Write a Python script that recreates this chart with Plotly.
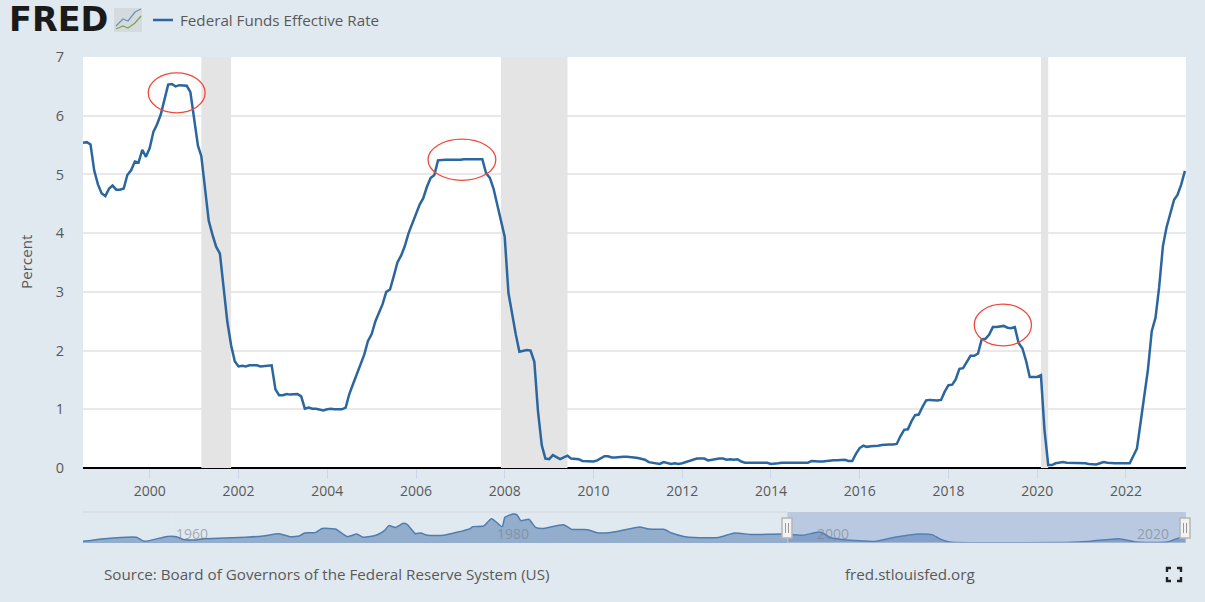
import pandas as pd
import plotly.graph_objects as go

W, H = 1205, 602
PAPER = "#e1e9f0"
TEXT = "#595959"
FONT = "Open Sans"

# monthly rate, Jul 1998 - May 2023
rate = [
    5.54, 5.55, 5.51, 5.07, 4.83, 4.68,
    4.63, 4.76, 4.81, 4.74, 4.74, 4.76, 4.99, 5.07, 5.22, 5.20, 5.42, 5.30,
    5.45, 5.73, 5.85, 6.02, 6.27, 6.53, 6.54, 6.50, 6.52, 6.51, 6.51, 6.40,
    5.98, 5.49, 5.31, 4.80, 4.21, 3.97, 3.77, 3.65, 3.07, 2.49, 2.09, 1.82,
    1.73, 1.74, 1.73, 1.75, 1.75, 1.75, 1.73, 1.74, 1.75, 1.75, 1.34, 1.24,
    1.24, 1.26, 1.25, 1.26, 1.26, 1.22, 1.01, 1.03, 1.01, 1.01, 1.00, 0.98,
    1.00, 1.01, 1.00, 1.00, 1.00, 1.03, 1.26, 1.43, 1.61, 1.76, 1.93, 2.16,
    2.28, 2.50, 2.63, 2.79, 3.00, 3.04, 3.26, 3.50, 3.62, 3.78, 4.00, 4.16,
    4.29, 4.49, 4.59, 4.79, 4.94, 4.99, 5.24, 5.25, 5.25, 5.25, 5.25, 5.24,
    5.25, 5.26, 5.26, 5.25, 5.25, 5.25, 5.26, 5.02, 4.94, 4.76, 4.49, 4.24,
    3.94, 2.98, 2.61, 2.28, 1.98, 2.00, 2.01, 2.00, 1.81, 0.97, 0.39, 0.16,
    0.15, 0.22, 0.18, 0.15, 0.18, 0.21, 0.16, 0.16, 0.15, 0.12, 0.12, 0.12,
    0.11, 0.13, 0.16, 0.20, 0.20, 0.18, 0.18, 0.19, 0.19, 0.19, 0.19, 0.18,
    0.17, 0.16, 0.14, 0.10, 0.09, 0.09, 0.07, 0.10, 0.08, 0.07, 0.08, 0.07,
    0.08, 0.10, 0.13, 0.14, 0.16, 0.16, 0.16, 0.13, 0.14, 0.16, 0.16, 0.16,
    0.14, 0.15, 0.14, 0.15, 0.11, 0.09, 0.09, 0.08, 0.08, 0.09, 0.08, 0.09,
    0.07, 0.07, 0.08, 0.09, 0.09, 0.10, 0.09, 0.09, 0.09, 0.09, 0.09, 0.12,
    0.11, 0.11, 0.11, 0.12, 0.12, 0.13, 0.13, 0.14, 0.14, 0.12, 0.12, 0.24,
    0.34, 0.38, 0.36, 0.37, 0.37, 0.38, 0.39, 0.40, 0.40, 0.40, 0.41, 0.54,
    0.65, 0.66, 0.79, 0.90, 0.91, 1.04, 1.15, 1.16, 1.15, 1.15, 1.16, 1.30,
    1.41, 1.42, 1.51, 1.69, 1.70, 1.82, 1.91, 1.91, 1.95, 2.19, 2.20, 2.27,
    2.40, 2.40, 2.41, 2.42, 2.39, 2.38, 2.40, 2.13, 2.04, 1.83, 1.55, 1.55,
    1.55, 1.58, 0.65, 0.05, 0.05, 0.08, 0.09, 0.10, 0.09, 0.09, 0.09, 0.09,
    0.09, 0.08, 0.07, 0.07, 0.06, 0.08, 0.10, 0.09, 0.08, 0.08, 0.08, 0.08,
    0.08, 0.08, 0.20, 0.33, 0.77, 1.21, 1.68, 2.33, 2.56, 3.08, 3.78, 4.10,
    4.33, 4.57, 4.65, 4.83, 5.06,
]
rate_dates = pd.date_range("1998-07-01", periods=len(rate), freq="MS")

recession_start = ["2001-03-01", "2007-12-01", "2020-02-01"]
recession_end = ["2001-11-01", "2009-06-01", "2020-04-01"]

# the red hand drawn circles: left, right, bottom, top
circle_left = ["1999-12-20", "2006-04-10", "2018-08-01"]
circle_right = ["2001-04-01", "2007-10-20", "2019-11-15"]
circle_low = [6.05, 4.90, 2.08]
circle_high = [6.73, 5.60, 2.79]

# navigator overview
nav_dates = [
    "1954-07", "1955-11", "1957-11", "1958-05", "1959-10", "1960-05", "1960-10",
    "1961-08", "1962-01", "1963-05", "1964-09", "1965-10", "1966-10", "1967-06",
    "1968-01", "1968-05", "1969-01", "1969-06", "1970-04", "1971-01", "1971-08",
    "1972-01", "1972-11", "1973-05", "1973-08", "1974-01", "1974-07", "1974-10",
    "1975-04", "1975-08", "1976-01", "1977-01", "1977-11", "1978-09", "1978-11",
    "1979-07", "1980-01", "1980-09", "1980-11", "1981-05", "1981-08", "1981-11",
    "1982-05", "1982-10", "1983-03", "1984-07", "1985-01", "1986-01", "1986-08",
    "1987-03", "1987-11", "1989-04", "1989-11", "1990-10", "1991-04", "1992-01",
    "1992-09", "1994-03", "1995-03", "1996-04", "1998-03", "1999-06", "2000-07",
    "2001-04", "2002-01", "2004-01", "2005-03", "2006-10", "2007-07", "2008-01",
    "2008-08", "2010-01", "2015-12", "2017-06", "2019-03", "2020-04", "2022-03",
    "2023-05",
]
nav_values = [
    1.1, 2.9, 3.8, 1.1, 4.4, 4.2, 2.4,
    2.0, 2.9, 3.3, 3.8, 4.7, 6.2, 4.2,
    4.7, 6.7, 6.9, 9.6, 9.3, 4.2, 6.0,
    3.8, 5.3, 8.4, 11.6, 10.4, 13.1, 12.2,
    6.2, 6.7, 5.1, 5.1, 7.1, 9.6, 10.9,
    11.3, 16.2, 10.9, 17.1, 19.3, 18.9, 14.9,
    15.8, 10.4, 9.6, 12.2, 9.1, 8.9, 6.9,
    6.7, 7.6, 10.7, 9.3, 9.1, 6.7, 4.4,
    3.6, 3.6, 6.7, 5.6, 6.0, 5.1, 7.3,
    3.3, 2.2, 1.1, 3.8, 6.0, 5.6, 2.7,
    0.7, 0.2, 0.4, 1.2, 2.9, 0.7, 0.7,
    5.1,
]
nav_tick_years = ["1960", "1980", "2000", "2020"]

y_ticks = [0, 1, 2, 3, 4, 5, 6, 7]
NAV_TOP = 20.67


def px(x):
    return x / W


def py(y):
    return 1 - y / H


def rect(x0, y0, x1, y1, **kw):
    return dict(type="rect", xref="paper", yref="paper", x0=px(x0), x1=px(x1), y0=py(y0), y1=py(y1), **kw)


def polyline(points, color, width):
    path = "M" + " L".join(f"{px(x):.5f},{py(y):.5f}" for x, y in points)
    return dict(type="path", xref="paper", yref="paper", path=path, line=dict(color=color, width=width))


def label(text, x, y, size=15.2, color=TEXT, anchor="left", family=FONT, **kw):
    return dict(text=text, xref="paper", yref="paper", x=px(x), y=py(y), xanchor=anchor, yanchor="middle",
                showarrow=False, font=dict(family=family, size=size, color=color), **kw)


fig = go.Figure()
fig.add_trace(go.Scatter(x=nav_dates, y=nav_values, xaxis="x2", yaxis="y2", mode="lines", fill="tozeroy",
                         fillcolor="#93aecd", line=dict(color="#4f7db0", width=1.5, shape="spline", smoothing=0.5),
                         hoverinfo="skip"))
fig.add_trace(go.Scatter(x=rate_dates, y=rate, mode="lines", name="Federal Funds Effective Rate",
                         line=dict(color="#2b669f", width=2.5)))

nav_end = "2023-05-10"
shapes = [dict(type="rect", xref="x", yref="y", x0="1998-07-01", x1=nav_end, y0=0, y1=7,
               fillcolor="white", line_width=0, layer="below")]
for a, b in zip(recession_start, recession_end):
    shapes.append(dict(type="rect", xref="x", yref="y", x0=a, x1=b, y0=0, y1=7,
                       fillcolor="#e4e4e4", line_width=0, layer="between"))
for a, b, lo, hi in zip(circle_left, circle_right, circle_low, circle_high):
    shapes.append(dict(type="circle", xref="x", yref="y", x0=a, x1=b, y0=lo, y1=hi,
                       line=dict(color="#f0483a", width=1.3)))

# navigator: selected window and its handles
shapes.append(dict(type="rect", xref="x2", yref="y2", x0=rate_dates[0], x1=nav_end, y0=0, y1=NAV_TOP,
                   fillcolor="rgba(102,133,194,0.32)", line=dict(color="#c4ccd6", width=1)))
shapes.append(polyline([(83, 512), (787, 512)], "#d3d6da", 1.2))
for cx in (787, 1185):
    shapes.append(rect(cx - 5, 518, cx + 5, 538, fillcolor="#f2f2f2", line=dict(color="#b5b5b5", width=1.5)))
    shapes.append(polyline([(cx - 1.5, 523), (cx - 1.5, 533)], "#999999", 1))
    shapes.append(polyline([(cx + 1.5, 523), (cx + 1.5, 533)], "#999999", 1))

# logo icon and legend key
shapes.append(rect(114, 8, 142, 32, fillcolor="#d5dade", line_width=0))
shapes.append(polyline([(116, 26), (123, 19), (128, 21), (135, 12), (141, 9)], "#6f93b5", 1.3))
shapes.append(polyline([(116, 29), (123, 26), (128, 28), (135, 23), (141, 16)], "#7ea35a", 1.3))
shapes.append(polyline([(153, 20), (173, 20)], "#2b669f", 2.5))

# fullscreen icon
for pts in ([(1167, 572), (1167, 568), (1171, 568)], [(1177, 568), (1181, 568), (1181, 572)],
            [(1167, 577), (1167, 581), (1171, 581)], [(1177, 581), (1181, 581), (1181, 577)]):
    shapes.append(polyline(pts, "#222222", 2.4))

annotations = [
    label("<b>FRED</b>", 7, 20, size=33.5, color="#1a1a1a", family="DejaVu Sans, sans-serif"),
    label("Federal Funds Effective Rate", 178, 20),
    label("Percent", 26, 262, textangle=-90, anchor="center"),
    label("Source: Board of Governors of the Federal Reserve System (US)", 102, 574),
    label("fred.stlouisfed.org", 843, 574),
]
for year in nav_tick_years:
    annotations.append(dict(text=year, xref="x2", yref="paper", x=year + "-01-01", y=py(533), xanchor="left",
                            xshift=3, yanchor="middle", showarrow=False,
                            font=dict(family=FONT, size=14, color="rgba(120,125,135,0.6)")))

fig.update_layout(
    width=W, height=H, margin=dict(l=0, r=0, t=0, b=0),
    paper_bgcolor=PAPER, plot_bgcolor=PAPER, showlegend=False,
    font=dict(family=FONT, size=14, color=TEXT),
    shapes=shapes, annotations=annotations,
    xaxis=dict(domain=[px(83), px(1186)], range=["1998-07-01", nav_end], anchor="y", automargin=False,
               tick0="2000-01-01", dtick="M24", tickformat="%Y", showgrid=False,
               ticks="outside", ticklen=10, tickwidth=1, tickcolor="#ccd6eb", showline=False,
               zeroline=False, tickfont=dict(size=14, color=TEXT)),
    yaxis=dict(domain=[py(468), py(57)], range=[0, 7], anchor="x", tickvals=y_ticks, showgrid=True, automargin=False,
               gridcolor="#e9e9e9", gridwidth=1.5, zeroline=True, zerolinecolor="black", zerolinewidth=2,
               ticks="", ticklabelstandoff=18, tickfont=dict(size=14.5, color=TEXT)),
    xaxis2=dict(domain=[px(83), px(1186)], range=["1954-07-01", nav_end], anchor="y2", automargin=False,
                tick0="1960-01-01", dtick="M240", showticklabels=False, ticks="", showgrid=True,
                gridcolor="#e6e9ee", gridwidth=1, zeroline=False),
    yaxis2=dict(domain=[py(543), py(512)], range=[0, NAV_TOP], anchor="x2", showticklabels=False, automargin=False,
                showgrid=False, zeroline=False, ticks=""),
)

fig.write_html("out.html", config=dict(displayModeBar=False),
               post_script="document.body.style.margin='0';document.body.style.overflow='hidden';")
